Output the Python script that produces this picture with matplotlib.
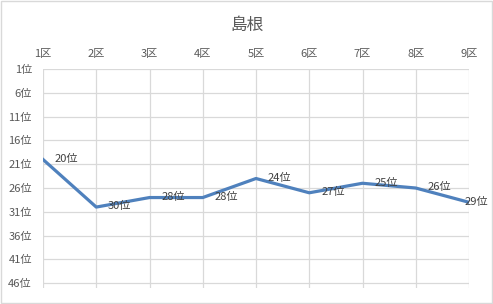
import matplotlib
matplotlib.use("Agg")
import matplotlib.pyplot as plt
from matplotlib.patches import Rectangle
from matplotlib.transforms import offset_copy

plt.rcParams['font.family'] = ['Noto Sans CJK JP', 'DejaVu Sans']

categories = ["1区", "2区", "3区", "4区", "5区", "6区", "7区", "8区", "9区"]
ranks = [20, 30, 28, 28, 24, 27, 25, 26, 29]
ytick_values = [1, 6, 11, 16, 21, 26, 31, 36, 41, 46]
ytick_labels = [f"{v}位" for v in ytick_values]
title = "島根"

fig = plt.figure(figsize=(4.93, 3.04), dpi=100)
ax = fig.add_axes([43/493, 1-288/304, (469-43)/493, (288-69)/304])

x = list(range(len(categories)))
ax.plot(x, ranks, color="#4F81BD", lw=2.3, solid_joinstyle="round", zorder=3)
n = len(categories)
for xi, r in zip(x, ranks):
    dx = 8.5 if xi < n - 1 else -3
    ax.annotate(f"{r}位", (xi, r), xytext=(dx, 0.5), textcoords="offset points",
                ha="left", va="center", fontsize=8, color="#404040", zorder=4)

ax.set_xlim(0, n-1)
ax.set_ylim(47, 1)
ax.set_xticks(x)
ax.set_xticklabels(categories)
ax.set_yticks(ytick_values)
ax.set_yticklabels(ytick_labels)
ax.xaxis.tick_top()
ax.tick_params(axis="both", length=0, labelsize=8, labelcolor="#595959")
ax.tick_params(axis="x", pad=7)
ax.tick_params(axis="y", pad=8)
ax.grid(True, color="#D9D9D9", lw=0.9)
ax.set_axisbelow(True)
for s in ax.spines.values():
    s.set_visible(False)

fig.text(247/493, 1-25/304, title, ha="center", va="center", fontsize=12, color="#595959")
fig.patches.append(Rectangle((0.002, 0.003), 0.995, 0.994, transform=fig.transFigure,
                             fill=False, edgecolor="#D9D9D9", lw=1))

fig.savefig("out.png", dpi=100)
